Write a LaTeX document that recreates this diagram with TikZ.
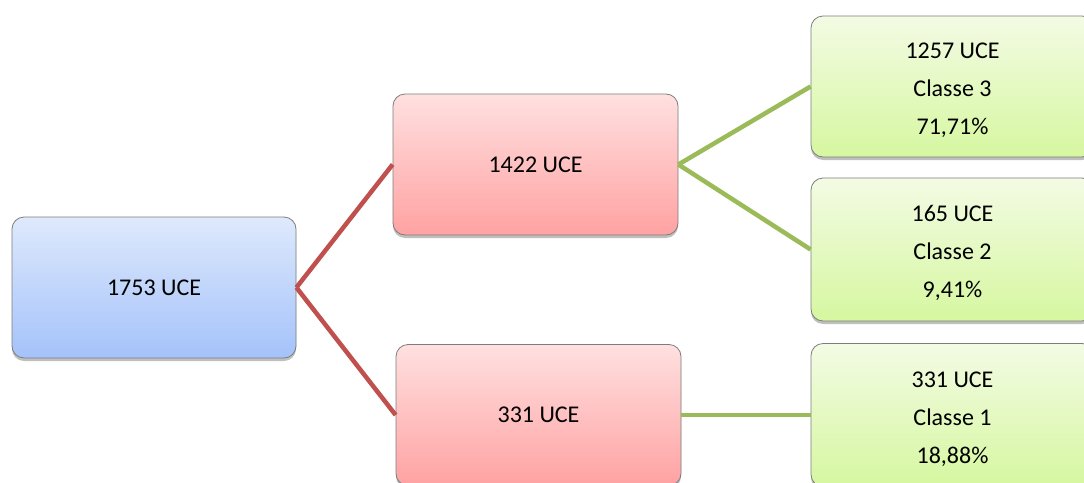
\documentclass[tikz,border=0pt]{standalone}
\usepackage{fontspec}
\setmainfont{Carlito}
\usetikzlibrary{shadows}
\definecolor{blueT}{RGB}{222,233,252}
\definecolor{blueB}{RGB}{164,194,250}
\definecolor{redT}{RGB}{255,224,224}
\definecolor{redB}{RGB}{255,162,162}
\definecolor{greenT}{RGB}{243,251,228}
\definecolor{greenB}{RGB}{214,247,160}
\definecolor{redLine}{RGB}{192,80,77}
\definecolor{greenLine}{RGB}{155,187,89}
\definecolor{boxBorder}{RGB}{125,125,125}
\newcommand{\topstrut}{\rule{0pt}{24pt}}
\begin{document}
\begin{tikzpicture}[x=1pt,y=-1pt,
  box/.style={rectangle, rounded corners=12pt, draw=boxBorder, line width=0.8pt,
    inner sep=0pt, align=center, font=\fontsize{24}{38}\selectfont,
    drop shadow={shadow xshift=0pt, shadow yshift=-3pt, opacity=0.25, fill=black}},
  bluebox/.style={box, top color=blueT, bottom color=blueB},
  redbox/.style={box, top color=redT, bottom color=redB},
  greenbox/.style={box, top color=greenT, bottom color=greenB},
  redconn/.style={draw=redLine, line width=4.5pt},
  greenconn/.style={draw=greenLine, line width=4.5pt}]
\useasboundingbox (0,0) rectangle (1084,482);
\clip (0,0) rectangle (1084,482);
\node[bluebox, minimum width=284pt, minimum height=141pt] (b) at (154,287.5) {1753 UCE};
\node[redbox, minimum width=285pt, minimum height=141pt] (r1) at (535.5,164.5) {1422 UCE};
\node[redbox, minimum width=285pt, minimum height=141pt] (r2) at (538.5,415) {331 UCE};
\node[greenbox, minimum width=283pt, minimum height=141pt] (g1) at (952.5,86.5) {\topstrut1257 UCE\\Classe 3\\71,71\%};
\node[greenbox, minimum width=283pt, minimum height=143pt] (g2) at (952.5,249.5) {\topstrut165 UCE\\Classe 2\\9,41\%};
\node[greenbox, minimum width=283pt, minimum height=143pt] (g3) at (952.5,415) {\topstrut331 UCE\\Classe 1\\18,88\%};
\draw[redconn] (b.east) -- (r1.west);
\draw[redconn] (b.east) -- (r2.west);
\draw[greenconn] (r1.east) -- (g1.west);
\draw[greenconn] (r1.east) -- (g2.west);
\draw[greenconn] (r2.east) -- (g3.west);
\end{tikzpicture}
\end{document}
